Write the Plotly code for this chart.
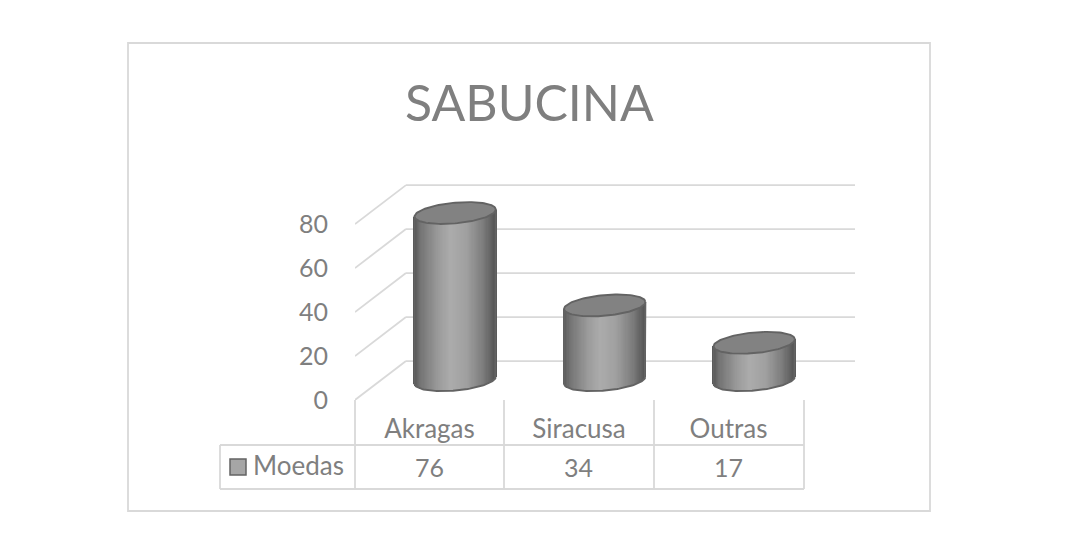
import numpy as np
import plotly.graph_objects as go

# Data
categories = ["Akragas", "Siracusa", "Outras"]
moedas = [76, 34, 17]
y_ticks = [0, 20, 40, 60, 80]
series_name = "Moedas"
chart_title = "SABUCINA"

# The page body has an 8px margin, so the figure is 16px smaller than the window
PAGE = 8
W, H = 1080 - 2 * PAGE, 536 - 2 * PAGE
TEXT = "#7f7f7f"
LINE = "#d9d9d9"
EDGE = "#636363"
FONT = "Lato"


def px_x(p):
    return (p - PAGE) / W


def px_y(p):
    return 1 - (p - PAGE) / H


# Pseudo 3D settings, in axis units
depth_x = 0.341    # front wall to back wall
depth_y = 17.7
cyl_offset = 0.172  # cylinder centre from the category tick
cyl_half = 0.272
ell_b = 4.7        # ellipse half height
ell_tilt = 1.6     # right side of the ellipse sits higher
floor_y = 9.0      # ellipse centre above the front zero line

fig = go.Figure()

# Cylinders: thin bars shaded left to right, then outline and lid
u = np.linspace(-1, 1, 71)
shade = np.interp(u, [-1, -0.85, -0.4, -0.1, 0.3, 0.7, 1], [85, 115, 155, 172, 160, 125, 85])
t = np.linspace(0, 2 * np.pi, 121)
for i, val in enumerate(moedas):
    cx = i + cyl_offset
    low = floor_y - ell_b * np.sqrt(1 - u ** 2) + ell_tilt * u
    fig.add_trace(go.Bar(
        x=cx + cyl_half * u,
        y=np.full(u.shape, val),
        base=low,
        width=cyl_half * 2 / 70 * 1.4,
        marker=dict(color=[f"rgb({int(s)},{int(s)},{int(s)})" for s in shade], line=dict(width=0)),
        hovertemplate=f"{categories[i]}: {val}<extra></extra>"))
    # side edges and bottom curve
    tb = np.linspace(0, np.pi, 61)
    xb = cx + cyl_half * np.cos(tb)
    yb = floor_y - ell_b * np.sin(tb) + ell_tilt * np.cos(tb)
    fig.add_trace(go.Scatter(
        x=np.concatenate([[cx + cyl_half], xb, [cx - cyl_half]]),
        y=np.concatenate([[floor_y + val + ell_tilt], yb, [floor_y + val - ell_tilt]]),
        mode="lines", line=dict(color=EDGE, width=1.9), hoverinfo="skip"))
    # lid
    fig.add_trace(go.Scatter(
        x=cx + cyl_half * np.cos(t),
        y=floor_y + val + ell_b * np.sin(t) + ell_tilt * np.cos(t),
        mode="lines", fill="toself", fillcolor="#828282",
        line=dict(color=EDGE, width=1.9), hoverinfo="skip"))

# Walls: back grid lines and the diagonal side lines, kept below the bars
x_left, x_right = -0.498, 2.846
shapes = []
for v in y_ticks:
    shapes.append(dict(type="line", xref="x", yref="y", x0=x_left + depth_x, x1=x_right,
                       y0=v + depth_y, y1=v + depth_y))
    shapes.append(dict(type="line", xref="x", yref="y", x0=x_left, x1=x_left + depth_x,
                       y0=v, y1=v + depth_y))

# Data table under the chart
col_edges = [355, 504, 654, 804]
table_lines = [
    dict(type="rect", x0=px_x(128), x1=px_x(930), y0=px_y(43), y1=px_y(511)),
    dict(type="line", x0=px_x(220), x1=px_x(804), y0=px_y(445), y1=px_y(445)),
    dict(type="line", x0=px_x(220), x1=px_x(804), y0=px_y(489), y1=px_y(489)),
    dict(type="line", x0=px_x(220), x1=px_x(220), y0=px_y(445), y1=px_y(489)),
]
for e in col_edges:
    table_lines.append(dict(type="line", x0=px_x(e), x1=px_x(e), y0=px_y(400), y1=px_y(489)))
for s in table_lines:
    s.update(xref="paper", yref="paper")
shapes += table_lines
for s in shapes:
    s.update(line=dict(color=LINE, width=1.8), layer="below")
shapes.append(dict(type="rect", xref="paper", yref="paper", x0=px_x(230), x1=px_x(246),
                   y0=px_y(459), y1=px_y(475), fillcolor="#a6a6a6", line=dict(color=EDGE, width=1.5)))

annotations = [
    dict(text=chart_title, xref="paper", yref="paper", x=px_x(529), y=px_y(102),
         yanchor="middle", showarrow=False, font=dict(size=50, color=TEXT, family=FONT)),
    dict(text=series_name, xref="paper", yref="paper", x=px_x(251), y=px_y(465), xanchor="left",
         yanchor="middle", showarrow=False, font=dict(size=26, color=TEXT, family=FONT)),
]
for i, val in enumerate(moedas):
    annotations.append(dict(text=str(val), xref="x", yref="paper", x=i, y=px_y(467), yanchor="middle",
                            showarrow=False, font=dict(size=25, color=TEXT, family=FONT)))

fig.update_layout(
    width=W, height=H,
    margin=dict(l=0, r=0, t=0, b=0),
    paper_bgcolor="white", plot_bgcolor="rgba(0,0,0,0)",
    showlegend=False, barmode="overlay", bargap=0,
    shapes=shapes, annotations=annotations,
    font=dict(family=FONT, color=TEXT, size=25),
    xaxis=dict(domain=[px_x(355), px_x(855)], range=[x_left, x_right], automargin=False,
               tickmode="array", tickvals=list(range(len(categories))), ticktext=categories,
               showgrid=False, zeroline=False, showline=False, ticks="",
               ticklabelstandoff=11, tickfont=dict(size=26, color=TEXT, family=FONT)),
    yaxis=dict(domain=[px_y(400), px_y(184)], range=[0, 98.2], automargin=False,
               tickmode="array", tickvals=y_ticks,
               showgrid=False, zeroline=False, showline=False, ticks="",
               ticklabelstandoff=26, tickfont=dict(size=25, color=TEXT, family=FONT)),
)

fig.write_html("out.html")
